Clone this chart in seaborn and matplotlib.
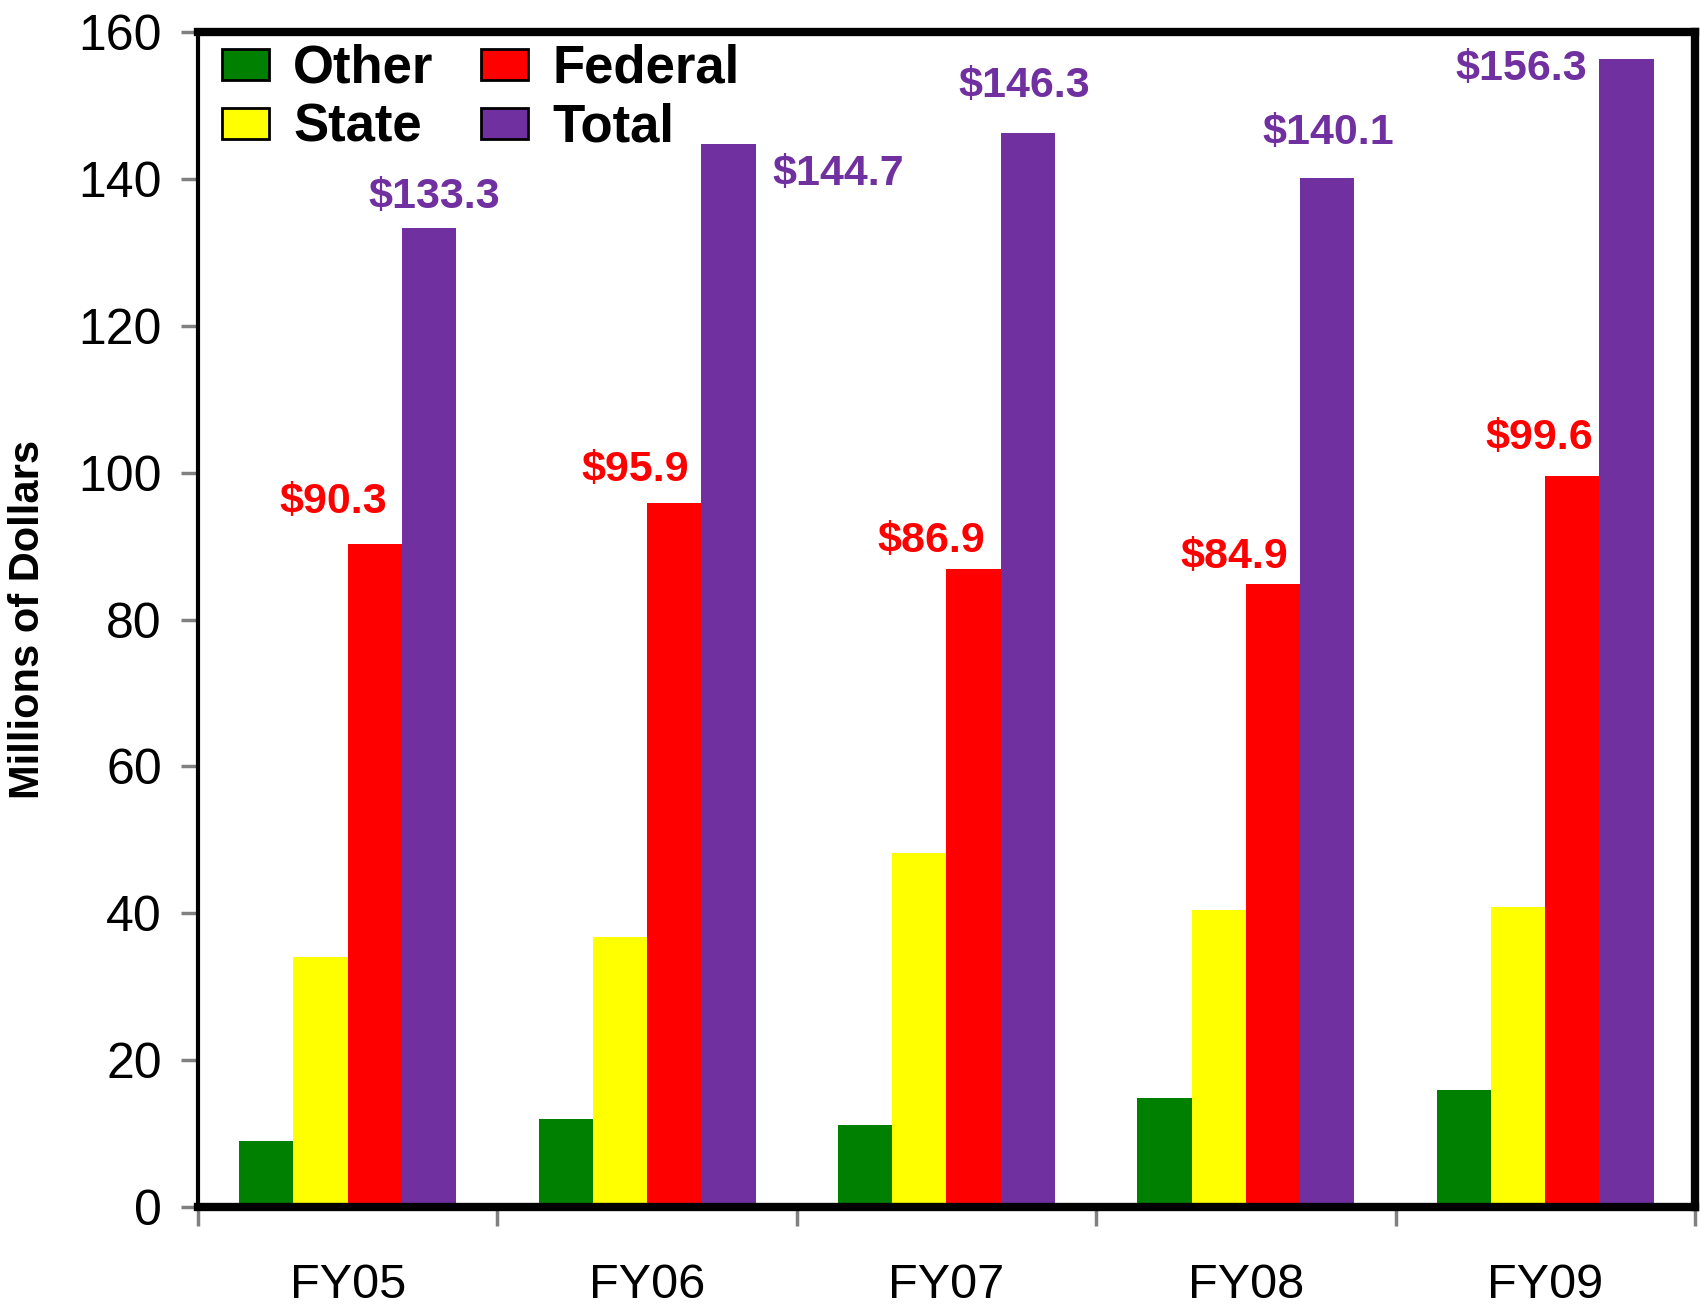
import numpy as np
import pandas as pd
import seaborn as sns
import matplotlib.pyplot as plt
from matplotlib.patches import Patch

years = ["FY05", "FY06", "FY07", "FY08", "FY09"]
other = [9.0, 12.0, 11.2, 14.8, 15.9]
state = [34.0, 36.8, 48.2, 40.4, 40.8]
federal = [90.3, 95.9, 86.9, 84.9, 99.6]
total = [133.3, 144.7, 146.3, 140.1, 156.3]
series = ["Other", "State", "Federal", "Total"]
colors = ["#008000", "#FFFF00", "#FF0000", "#7030A0"]

# label placement (data coords) for the value callouts
fed_lab_x = [-0.05, 0.96, 1.95, 2.96, 3.98]
fed_lab_y = [96.0, 100.4, 90.7, 88.5, 104.7]
tot_lab_x = [0.29, 1.64, 2.26, 3.275, 3.92]
tot_lab_y = [137.5, 140.6, 152.7, 146.2, 155.0]

df = pd.DataFrame({
    "year": np.repeat(years, 4),
    "series": series * len(years),
    "value": np.ravel(np.column_stack([other, state, federal, total])),
})

sns.set_style("white")
plt.rcParams["font.family"] = ["Liberation Sans", "DejaVu Sans"]
plt.rcParams["text.color"] = "black"
plt.rcParams["xtick.color"] = "black"
plt.rcParams["ytick.color"] = "black"
plt.rcParams["axes.labelcolor"] = "black"

fig = plt.figure(figsize=(17, 13.06), dpi=100)
ax = fig.add_axes([0.1165, 0.0758, 0.8805, 0.8997])

sns.barplot(data=df, x="year", y="value", hue="series", hue_order=series,
            palette=colors, width=0.725, gap=0, saturation=1,
            linewidth=0, ax=ax, legend=False)

ax.set_ylim(0, 160)
ax.set_xlim(-0.5, 4.5)
ax.set_yticks(range(0, 161, 20))
ax.tick_params(axis="y", left=True, labelsize=36, length=12, width=2.5,
               color="gray", labelcolor="black", direction="out", pad=14)
ax.set_xticks(range(5))
ax.set_xticks(np.arange(-0.5, 5, 1), minor=True)
ax.tick_params(axis="x", which="major", length=0, labelsize=35, pad=40,
               labelcolor="black")
ax.tick_params(axis="x", which="minor", bottom=True, length=14, width=2.5,
               color="gray", direction="out")
ax.set_xlabel("")
ax.set_ylabel("Millions of Dollars", fontsize=30, fontweight="bold")
ax.yaxis.set_label_coords(-0.1, 0.5)

for side in ["top", "right", "bottom"]:
    ax.spines[side].set_linewidth(6)
    ax.spines[side].set_color("black")
ax.spines["left"].set_linewidth(3)
ax.spines["left"].set_color("black")

for i in range(len(years)):
    ax.text(fed_lab_x[i], fed_lab_y[i], f"${federal[i]}", color="#FF0000",
            fontsize=31, fontweight="bold", ha="center", va="center")
    ax.text(tot_lab_x[i], tot_lab_y[i], f"${total[i]}", color="#7030A0",
            fontsize=31, fontweight="bold", ha="center", va="center")

handles = [Patch(facecolor=c, edgecolor="black", linewidth=2) for c in colors]
ax.legend(handles, series, ncol=2, loc="upper left", frameon=False,
          prop={"size": 38, "weight": "bold"}, handlelength=0.9,
          handleheight=0.52, handletextpad=0.45, columnspacing=0.9,
          labelspacing=0.17, borderaxespad=0.05, bbox_to_anchor=(0.0, 1.01))

fig.savefig("out.png", dpi=100)
